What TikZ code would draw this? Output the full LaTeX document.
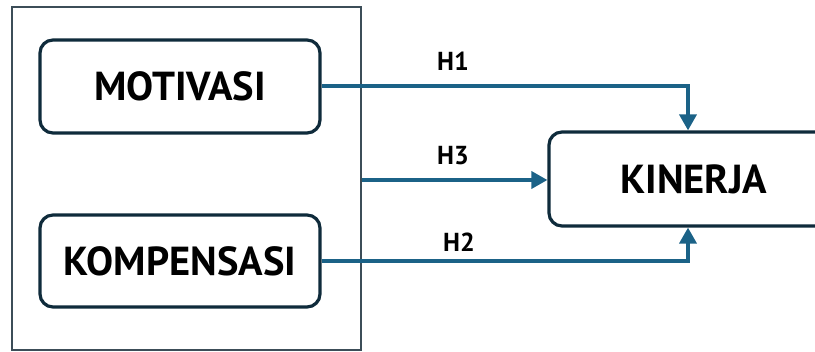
\documentclass[tikz,border=0pt]{standalone}
\usepackage{fontspec}
\setmainfont{PT Sans}
\usetikzlibrary{arrows.meta}
\definecolor{arr}{HTML}{1B6287}
\definecolor{bx}{HTML}{0F2B3B}
\definecolor{outer}{HTML}{3C4D58}
\tikzset{
  var/.style={draw=bx, line width=3.2pt, rounded corners=13pt, fill=white, inner sep=0pt},
  vtext/.style={font=\bfseries\fontsize{40.5}{40}\selectfont, text=black},
  hl/.style={font=\bfseries\fontsize{26}{26}\selectfont, text=black},
  link/.style={draw=arr, line width=3.6pt, -{Triangle[length=16pt,width=17pt]}},
}
\begin{document}
\begin{tikzpicture}[x=1pt,y=-1pt]
\useasboundingbox (0,0) rectangle (815,352);
\node[draw=outer, line width=1.6pt, minimum width=349pt, minimum height=343pt, inner sep=0pt] (grp) at (186.5,178.5) {};
\node[var, minimum width=280pt, minimum height=93pt] (mot) at (180,86.5) {};
\node[vtext] at (mot) {MOTIVASI};
\node[var, minimum width=280pt, minimum height=92pt] (kom) at (180,261) {};
\node[vtext] at (kom) {KOMPENSASI};
\node[var, minimum width=290pt, minimum height=94pt] (kin) at (694,179) {};
\node[vtext] at (kin) {KINERJA};
\coordinate (h1c) at (688,86);
\coordinate (h2c) at (688,261);
\draw[link] (mot.east |- 0,86) -- (h1c) -- (kin.north -| h1c);
\draw[link] (grp.east |- 0,180) -- (kin.west |- 0,180);
\draw[link] (kom.east |- 0,261) -- (h2c) -- (kin.south -| h2c);
\node[hl] (l1) at (453,61) {H1};
\node[hl] (l3) at (453,156) {H3};
\node[hl] (l2) at (459,242) {H2};
\end{tikzpicture}
\end{document}
